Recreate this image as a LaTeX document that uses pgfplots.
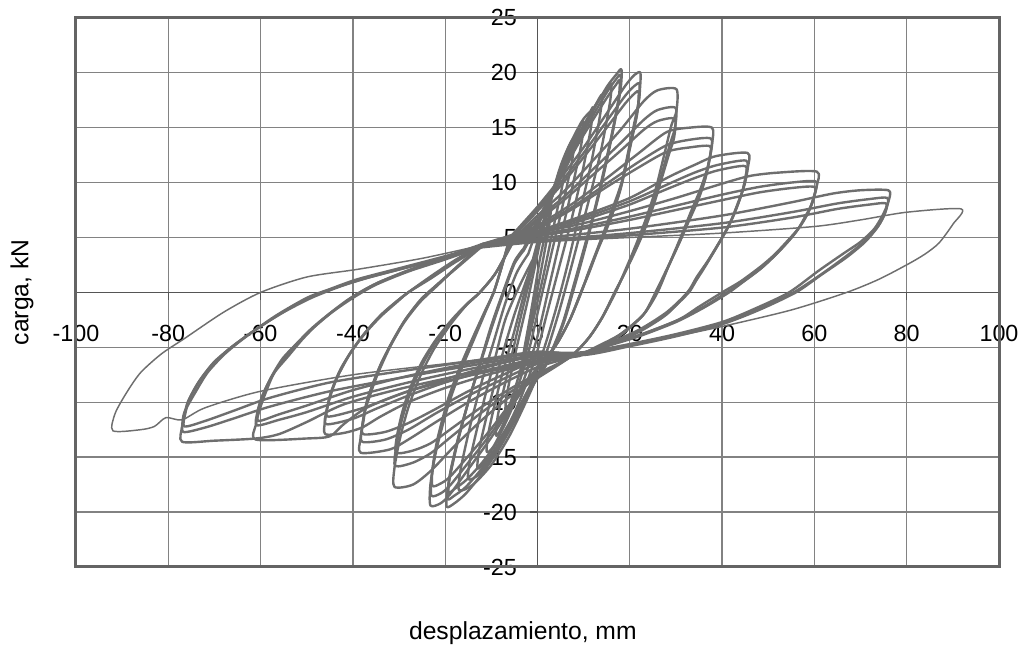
\documentclass[border=0pt]{standalone}
\usepackage{pgfplots}
\pgfplotsset{compat=1.18}
\usepackage{fontspec}
\setmainfont{Liberation Sans}
\definecolor{datagray}{RGB}{110,110,110}
\definecolor{gridgray}{RGB}{130,130,130}
\definecolor{axisgray}{RGB}{85,85,85}
\definecolor{framegray}{RGB}{100,100,100}
\tikzset{lp/.style={datagray, line width=1.8pt, smooth, tension=0.45, mark=none, line join=round},
         lpthin/.style={datagray, line width=1.1pt, smooth, tension=0.45, mark=none, line join=round}}
\begin{document}
\begin{tikzpicture}
\path[use as bounding box] (-57pt,-59.25pt) rectangle (711.75pt,425.25pt);
\begin{axis}[
  name=ax,
  scale only axis, width=692.25pt, height=411.9pt,
  at={(0,0)}, anchor=south west,
  xmin=-100, xmax=100, ymin=-25, ymax=25,
  axis lines=middle, axis line style={-, draw=axisgray, line width=1.1pt},
  xtick={-100,-80,...,100}, ytick={-25,-20,...,25},
  grid=major, grid style={gridgray, line width=1pt},
  tick align=outside, major tick length=6pt, tick style={axisgray, line width=1pt},
  hide obscured x ticks=false, hide obscured y ticks=false,
  tick label style={font=\fontsize{17.5}{20}\selectfont},
  /pgf/number format/assume math mode=true,
  xticklabel style={anchor=north, yshift=-15pt},
  yticklabel style={anchor=east, xshift=-6pt},
]
% loop 90 (thin)
\addplot[lpthin] coordinates {(-12,4.3) (0,4.6) (20,5.0) (40,5.4) (60,6.0) (70,6.6) (80,7.3) (91.8,7.6) (90,6.2) (87,4.5) (84,3.5) (80.4,2.6) (74,1.2) (67,0) (55,-1.6) (40,-3.1) (25,-4.4) (10,-5.4) (0,-5.5) (-20,-6.5) (-40,-7.5) (-60,-9.0) (-72,-10.5) (-77,-11.6) (-80.5,-11.4) (-83,-12.2) (-86,-12.5) (-92,-12.6) (-91.5,-11) (-89,-9.1) (-86,-7.3) (-81.5,-5.6) (-76.5,-4.2) (-68,-1.8) (-60,0) (-50,1.4) (-39,2.1) (-25,3.1) (-12,4.3)};
% loop 75
\addplot[lp] coordinates {(-12,4.3) (0,4.9) (20,5.8) (40,7) (55,8.2) (64,9) (70,9.3) (76,9.3) (76.2,8.5) (75,7.2) (73,5.8) (70,4.6) (66.5,3.6) (61,2) (54.5,0) (47,-1.5) (40,-2.7) (30,-3.8) (20,-4.7) (10,-5.5) (0,-6.2) (-15,-7.4) (-30,-8.8) (-42,-10.2) (-50,-11.8) (-56,-12.9) (-61,-13.3) (-70,-13.5) (-77,-13.6) (-77,-12.2) (-76.5,-10.9) (-74,-9) (-71.5,-7.3) (-68,-5.7) (-64,-4.3) (-57,-2.2) (-50,-0.5) (-45,0.3) (-39,1.2) (-29,2.3) (-20,3.3) (-12,4.3)};
\addplot[lp] coordinates {(-12,4.2) (0,4.7) (20,5.4) (40,6.3) (55,7.3) (65,8.1) (72,8.5) (75.8,8.6) (75.6,7.6) (74.2,6.3) (71.5,4.9) (67.5,3.5) (62,1.8) (55.5,0) (48,-1.5) (40,-2.8) (30,-3.9) (20,-4.8) (10,-5.6) (0,-5.7) (-15,-6.7) (-30,-7.8) (-45,-9) (-58,-10.4) (-66,-11.5) (-72,-12.3) (-76.8,-12.7) (-76.6,-11.4) (-75.8,-10) (-73.5,-8.2) (-70.5,-6.6) (-67,-5.2) (-62.5,-3.8) (-56,-2) (-50,-0.6) (-44,0.4) (-38,1.2) (-28,2.3) (-20,3.2) (-12,4.2)};
\addplot[lp] coordinates {(-12,4.1) (0,4.6) (20,5.2) (40,5.9) (55,6.8) (65,7.6) (72,8.0) (75.5,8.1) (75.3,7.2) (73.8,6) (71,4.6) (67,3.2) (61.5,1.6) (56,0) (48,-1.6) (40,-2.9) (30,-4) (20,-4.9) (10,-5.7) (0,-5.4) (-15,-6.3) (-30,-7.2) (-45,-8.2) (-58,-9.6) (-66,-10.8) (-72,-11.7) (-76.5,-12.2) (-76.3,-11) (-75.3,-9.6) (-73,-7.9) (-70,-6.3) (-66,-4.9) (-61.5,-3.5) (-55,-1.8) (-49,-0.5) (-43,0.5) (-37,1.3) (-28,2.3) (-20,3.1) (-12,4.1)};
% loop 60
\addplot[lp] coordinates {(-12,4.4) (0,5.4) (10,6.3) (20,7.4) (30,8.6) (40,9.9) (46,10.6) (52,10.9) (60.5,11) (60.5,9.7) (59.5,8.1) (58,6.9) (56.5,5.8) (54.4,4.8) (51.5,3.5) (48.5,2.4) (44,1) (40,0) (35,-1.3) (30.5,-2.5) (22,-3.9) (15,-4.8) (9,-5.6) (0,-6.3) (-15,-7.6) (-28,-9) (-37,-10.5) (-42,-12) (-45,-13.1) (-50,-13.3) (-61,-13.4) (-61,-12) (-60,-10.4) (-58.5,-8.7) (-57,-7.3) (-54,-5.8) (-51,-4.3) (-48,-3) (-44.6,-1.8) (-40,-0.4) (-35,0.8) (-28,2) (-20,3.2) (-12,4.4)};
\addplot[lp] coordinates {(-12,4.3) (0,5.2) (10,6) (20,6.9) (30,7.9) (40,8.9) (48,9.6) (55,10) (60.3,10.1) (60.1,9) (59,7.6) (57.5,6.4) (55.5,5.2) (52.5,3.8) (49,2.4) (45,1.1) (41,0) (36,-1.3) (30,-2.6) (22,-3.9) (15,-4.8) (9,-5.6) (0,-5.8) (-15,-7) (-28,-8.2) (-40,-9.5) (-50,-10.9) (-56,-11.6) (-60.8,-12.1) (-60.7,-10.9) (-59.8,-9.6) (-58,-8) (-55.5,-6.3) (-52.5,-4.8) (-49,-3.3) (-45,-1.9) (-40.5,-0.5) (-35,0.8) (-28,2) (-20,3.1) (-12,4.3)};
\addplot[lp] coordinates {(-12,4.2) (0,5.1) (10,5.8) (20,6.6) (30,7.5) (40,8.4) (48,9.1) (55,9.5) (60,9.6) (59.8,8.6) (58.7,7.3) (57,6.1) (55,5) (52,3.6) (48.5,2.2) (45,1.1) (41.5,0) (36,-1.4) (30,-2.7) (22,-4) (15,-4.9) (9,-5.7) (0,-5.5) (-15,-6.5) (-28,-7.6) (-40,-8.9) (-50,-10.3) (-56,-11.1) (-60.5,-11.7) (-60.4,-10.6) (-59.5,-9.3) (-57.7,-7.7) (-55.2,-6) (-52,-4.6) (-48.5,-3.2) (-44.5,-1.8) (-40,-0.5) (-35,0.7) (-28,1.9) (-20,3) (-12,4.2)};
% loop 45
\addplot[lp] coordinates {(-12,4.4) (0,5.6) (10,7) (20,8.6) (28.4,10.5) (34,11.6) (38.6,12.4) (45.5,12.7) (45.6,11.4) (44.8,9.7) (43.3,8) (42,6.6) (40,5) (37.8,3.4) (35.5,1.8) (32.5,0) (28,-1.8) (22,-3.4) (15,-4.7) (9,-5.6) (0,-6.4) (-10,-7.4) (-20,-8.7) (-28,-10) (-34,-11.3) (-38,-12.3) (-42,-12.8) (-46,-12.9) (-46,-11.6) (-45.2,-9.9) (-43.5,-7.8) (-41,-5.8) (-38,-4) (-34.5,-2.3) (-31,-1) (-28,0) (-23,1.5) (-18,2.9) (-12,4.4)};
\addplot[lp] coordinates {(-12,4.3) (0,5.5) (10,6.8) (20,8.3) (28,9.8) (34,10.9) (39,11.6) (45.2,12) (45.2,10.8) (44.4,9.2) (43,7.6) (41.5,6.1) (39.5,4.6) (37.2,3) (35,1.6) (32.8,0) (28,-1.9) (22,-3.5) (15,-4.8) (9,-5.6) (0,-6.0) (-10,-7.0) (-20,-8.2) (-28,-9.4) (-35,-10.6) (-40,-11.5) (-45.8,-12) (-45.7,-10.8) (-44.8,-9.2) (-43,-7.4) (-40.5,-5.5) (-37.5,-3.8) (-34,-2.2) (-30.5,-0.9) (-28,0) (-23,1.4) (-18,2.8) (-12,4.3)};
\addplot[lp] coordinates {(-12,4.2) (0,5.3) (10,6.6) (20,8) (28,9.4) (34,10.4) (39,11.1) (45,11.5) (45,10.3) (44.1,8.8) (42.7,7.2) (41,5.7) (39,4.3) (36.8,2.8) (34.5,1.4) (32.5,0) (28,-2) (22,-3.6) (15,-4.9) (9,-5.7) (0,-5.7) (-10,-6.7) (-20,-7.9) (-28,-9.0) (-35,-10.1) (-40,-10.8) (-45.5,-11.3) (-45.4,-10.2) (-44.5,-8.8) (-42.7,-7) (-40.2,-5.3) (-37.2,-3.6) (-33.8,-2) (-30.5,-0.8) (-28,0) (-23,1.3) (-18,2.7) (-12,4.2)};
% loop 37.5
\addplot[lp] coordinates {(-12,4.4) (-5,5.3) (0,6.1) (8,8.2) (15,10.4) (22,12.7) (28,14.6) (33,15) (37.8,15) (37.8,13.5) (36.8,11.3) (35.2,9.3) (33.4,7.5) (31,5) (28.4,2.4) (26,0) (23,-2) (18,-3.8) (13,-4.9) (9,-5.7) (0,-6.8) (-8,-8.4) (-15,-10) (-22,-11.8) (-28,-13.4) (-32,-14.3) (-38.3,-14.6) (-38.3,-13.2) (-37.5,-11) (-36,-9) (-34.5,-7.3) (-32,-5) (-29,-2.8) (-25.5,-0.9) (-21.5,0.7) (-17,2.5) (-12,4.4)};
\addplot[lp] coordinates {(-12,4.3) (-5,5.2) (0,5.9) (8,7.9) (15,9.9) (22,11.9) (28,13.4) (33,13.9) (37.6,14) (37.5,12.6) (36.5,10.6) (35,8.7) (33,6.8) (30.8,4.6) (28.2,2.2) (26,0.2) (23,-2) (18,-3.8) (13,-5) (9,-5.7) (0,-6.5) (-8,-8.0) (-15,-9.4) (-22,-11.0) (-28,-12.5) (-33,-13.4) (-38,-13.6) (-38,-12.3) (-37.2,-10.3) (-35.7,-8.4) (-34,-6.6) (-31.5,-4.5) (-28.7,-2.5) (-25.3,-0.7) (-21.5,0.8) (-17,2.5) (-12,4.3)};
\addplot[lp] coordinates {(-12,4.2) (-5,5.1) (0,5.8) (8,7.7) (15,9.6) (22,11.4) (28,12.8) (33,13.2) (37.4,13.3) (37.2,12) (36.2,10.1) (34.7,8.3) (32.8,6.5) (30.6,4.4) (28,2.1) (25.8,0.2) (23,-2) (18,-3.9) (13,-5) (9,-5.8) (0,-6.2) (-8,-7.6) (-15,-9.0) (-22,-10.6) (-28,-11.9) (-33,-12.7) (-37.8,-12.9) (-37.7,-11.7) (-36.9,-9.8) (-35.4,-8) (-33.7,-6.3) (-31.2,-4.3) (-28.5,-2.4) (-25.2,-0.6) (-21.5,0.8) (-17,2.4) (-12,4.2)};
% loop 30
\addplot[lp] coordinates {(-5,5.0) (0,7) (6,9.3) (12,12) (18,14.8) (23,17.4) (26,18.4) (30.1,18.5) (30.1,16.5) (29,15.2) (27.5,12.6) (25.6,9.4) (23.5,6.7) (21.2,4.2) (19,2) (16.9,0) (14,-2.3) (11,-4.2) (7,-5.9) (0,-7.8) (-6,-9.5) (-12,-11.6) (-18,-14) (-23,-16.2) (-27,-17.5) (-31,-17.7) (-31,-16) (-29.8,-13.3) (-28,-10.5) (-25.5,-7.7) (-22.5,-5.2) (-19,-3) (-15.5,-1.2) (-12.5,0) (-9,1.8) (-5,5.0)};
\addplot[lp] coordinates {(-5,4.9) (0,6.7) (6,8.8) (12,11.2) (18,13.6) (23,15.7) (26,16.6) (29.9,16.8) (29.8,15) (28.7,13.5) (27.2,11.2) (25.4,8.5) (23.3,6) (21,3.7) (18.8,1.7) (16.8,0) (14,-2.3) (11,-4.2) (7,-5.9) (0,-7.6) (-6,-9.1) (-12,-10.9) (-18,-12.9) (-23,-14.6) (-27,-15.5) (-30.8,-15.8) (-30.7,-14.3) (-29.5,-11.8) (-27.7,-9.3) (-25.2,-6.8) (-22.2,-4.6) (-18.8,-2.7) (-15.3,-1.1) (-12.5,0) (-9,1.8) (-5,4.9)};
\addplot[lp] coordinates {(-5,4.8) (0,6.5) (6,8.5) (12,10.7) (18,12.9) (23,14.8) (26,15.6) (29.7,15.8) (29.6,14.1) (28.5,12.6) (27,10.5) (25.2,8) (23.1,5.6) (20.9,3.5) (18.7,1.6) (16.7,0) (14,-2.3) (11,-4.2) (7,-5.9) (0,-7.4) (-6,-8.8) (-12,-10.4) (-18,-12.2) (-23,-13.7) (-27,-14.4) (-30.6,-14.6) (-30.5,-13.2) (-29.3,-10.9) (-27.5,-8.6) (-25,-6.3) (-22,-4.3) (-18.6,-2.5) (-15.2,-1) (-12.5,0) (-9,1.8) (-5,4.8)};
% loop 22
\addplot[lp] coordinates {(-6,5) (0,7.8) (5,10.4) (10,13.2) (15,16.3) (19,18.8) (21,19.8) (22.3,20) (22.2,18.5) (21.9,17.3) (20,13.5) (18.2,10) (15.7,7) (13.2,4.2) (11,1.8) (9.5,0) (7,-2.5) (4,-4.8) (0,-7) (-5,-10) (-10,-13.2) (-15,-16.1) (-19,-18.4) (-21,-19.2) (-23.2,-19.4) (-23.2,-17.5) (-22,-14.5) (-19.5,-10.5) (-17,-7.5) (-14,-4.5) (-11.5,-2) (-9.5,0) (-8,2) (-6,5)};
\addplot[lp] coordinates {(-6,4.9) (0,7.6) (5,10) (10,12.7) (15,15.6) (19,17.9) (21,18.8) (22.1,19) (22,17.6) (21.6,16.4) (19.8,12.8) (18,9.5) (15.6,6.6) (13.1,4) (11,1.7) (9.4,0) (7,-2.5) (4,-4.8) (0,-6.9) (-5,-9.8) (-10,-12.8) (-15,-15.5) (-19,-17.6) (-21,-18.3) (-23,-18.5) (-22.9,-16.7) (-21.8,-13.8) (-19.4,-10) (-16.9,-7.1) (-14,-4.3) (-11.5,-1.9) (-9.5,0) (-8,2) (-6,4.9)};
\addplot[lp] coordinates {(-6,4.8) (0,7.4) (5,9.7) (10,12.3) (15,15) (19,17.2) (21,18.1) (21.9,18.3) (21.8,17) (21.4,15.8) (19.6,12.3) (17.8,9.1) (15.5,6.3) (13,3.8) (11,1.6) (9.4,0) (7,-2.5) (4,-4.8) (0,-6.8) (-5,-9.6) (-10,-12.4) (-15,-14.9) (-19,-16.8) (-21,-17.4) (-22.8,-17.6) (-22.7,-15.9) (-21.6,-13.2) (-19.3,-9.6) (-16.8,-6.8) (-14,-4.1) (-11.5,-1.8) (-9.5,0) (-8,2) (-6,4.8)};
% loop 18
\addplot[lp] coordinates {(-3,4) (0,6.5) (4,10) (8,13.5) (12,16.5) (15,18.7) (17,19.8) (18.2,20.3) (18,18.5) (16.5,15) (14.5,11) (12.5,7.5) (10,3.5) (8,0.5) (5.5,-3) (2,-6.5) (-1,-8.5) (-4,-11) (-8,-14) (-12,-16.5) (-15.5,-18.3) (-18,-19.2) (-19.7,-19.5) (-19.3,-17.5) (-17.5,-14) (-15,-10) (-12.5,-6.5) (-10,-3) (-7.5,0) (-5,2.8) (-3,4)};
\addplot[lp] coordinates {(-3,3.9) (0,6.3) (4,9.8) (8,13.2) (12,16.1) (15,18.2) (17,19.4) (18,19.8) (17.8,18.1) (16.3,14.7) (14.3,10.8) (12.3,7.3) (9.8,3.4) (7.8,0.4) (5.4,-3) (2,-6.4) (-1,-8.3) (-4,-10.7) (-8,-13.6) (-12,-16) (-15.5,-17.7) (-18,-18.5) (-19.5,-18.8) (-19.1,-16.9) (-17.3,-13.5) (-14.8,-9.7) (-12.3,-6.3) (-9.8,-2.9) (-7.4,0) (-5,2.7) (-3,3.9)};
\addplot[lp] coordinates {(-3,3.8) (0,6.1) (4,9.5) (8,12.9) (12,15.7) (15,17.7) (17,18.9) (17.8,19.3) (17.6,17.7) (16.1,14.4) (14.1,10.6) (12.1,7.1) (9.6,3.3) (7.6,0.3) (5.3,-3) (2,-6.3) (-1,-8.1) (-4,-10.4) (-8,-13.2) (-12,-15.5) (-15.5,-17.1) (-18,-17.9) (-19.3,-18.2) (-18.9,-16.4) (-17.1,-13.1) (-14.6,-9.4) (-12.1,-6.1) (-9.6,-2.8) (-7.3,0) (-5,2.6) (-3,3.8)};
% small loops
\addplot[lp] coordinates {(-2,3.5) (1,7) (5,11) (9,14.5) (12.5,17) (15,18.5) (16,19) (15.7,17.3) (13.8,13) (11.5,9) (9,5) (6.8,1.5) (4.5,-2) (1.5,-6) (-2,-9.5) (-6,-13) (-10,-15.7) (-14,-17.5) (-17,-18) (-16.6,-16) (-14.5,-12) (-12,-8) (-9.5,-4.5) (-7,-1) (-4.5,1.8) (-2,3.5)};
\addplot[lp] coordinates {(-1,3) (2,7.5) (6,11.5) (10,15) (12.5,17) (14,18) (13.5,16) (11.5,11.5) (9,7) (6.5,2.5) (4,-1.5) (1.5,-5) (-1.5,-8.5) (-5,-11.5) (-9,-14.5) (-12.5,-16.5) (-15,-17) (-14.5,-15) (-12,-10.5) (-9.5,-6.5) (-7,-2.5) (-4,0.5) (-1,3)};
\addplot[lp] coordinates {(-0.5,3.5) (2.5,8) (6,12.5) (9.5,15.5) (11.5,16.5) (12,16.8) (11.5,14.8) (9.5,10.5) (7,6) (4.5,2) (2,-2) (-0.5,-6) (-4,-10) (-8,-13.5) (-11.5,-15.5) (-13,-16) (-12.5,-14) (-10,-9.5) (-7.5,-5.5) (-5,-2) (-2.5,1) (-0.5,3.5)};
\addplot[lp] coordinates {(0,4) (3,8.5) (6,12) (8.5,14.5) (10,15.5) (9.5,13.5) (7.5,9.5) (5,5) (2.5,0.5) (0,-4) (-3,-8) (-6.5,-11.5) (-9.5,-14) (-11,-14.5) (-10.5,-12.5) (-8,-8) (-5,-3.5) (-2.5,0.5) (0,4)};
\addplot[lp] coordinates {(0,4) (2.5,8) (5,11.5) (7,13.5) (8,14) (7.5,12) (5.5,8) (3,3.5) (0.5,-1) (-2,-5.5) (-5,-9.5) (-8,-12.5) (-9,-13) (-8.5,-11) (-6,-6.5) (-3.5,-2) (0,4)};
\addplot[lp] coordinates {(0.5,4.5) (3,8.5) (5,11) (6,12) (5.5,10) (3.5,6) (1,1) (-1.5,-3.5) (-4,-7.5) (-6,-10.2) (-7,-11) (-6.5,-9) (-4.5,-5) (-2,-0.5) (0.5,4.5)};
\addplot[lp] coordinates {(0.5,3) (2,6) (3,8) (2.5,6) (1,2.5) (-1,-2) (-2.5,-5.5) (-3.5,-7.5) (-3,-5.5) (-1.5,-2) (0.5,3)};
\end{axis}
\draw[framegray, line width=2.25pt] (ax.south west) rectangle (ax.north east);
\node[font=\fontsize{18.5}{22}\selectfont] at ([xshift=-11pt, yshift=-49.5pt]ax.south) {desplazamiento, mm};
\node[font=\fontsize{18.5}{22}\selectfont, rotate=90] at ([xshift=-40.5pt]ax.west) {carga, kN};
\end{tikzpicture}
\end{document}
